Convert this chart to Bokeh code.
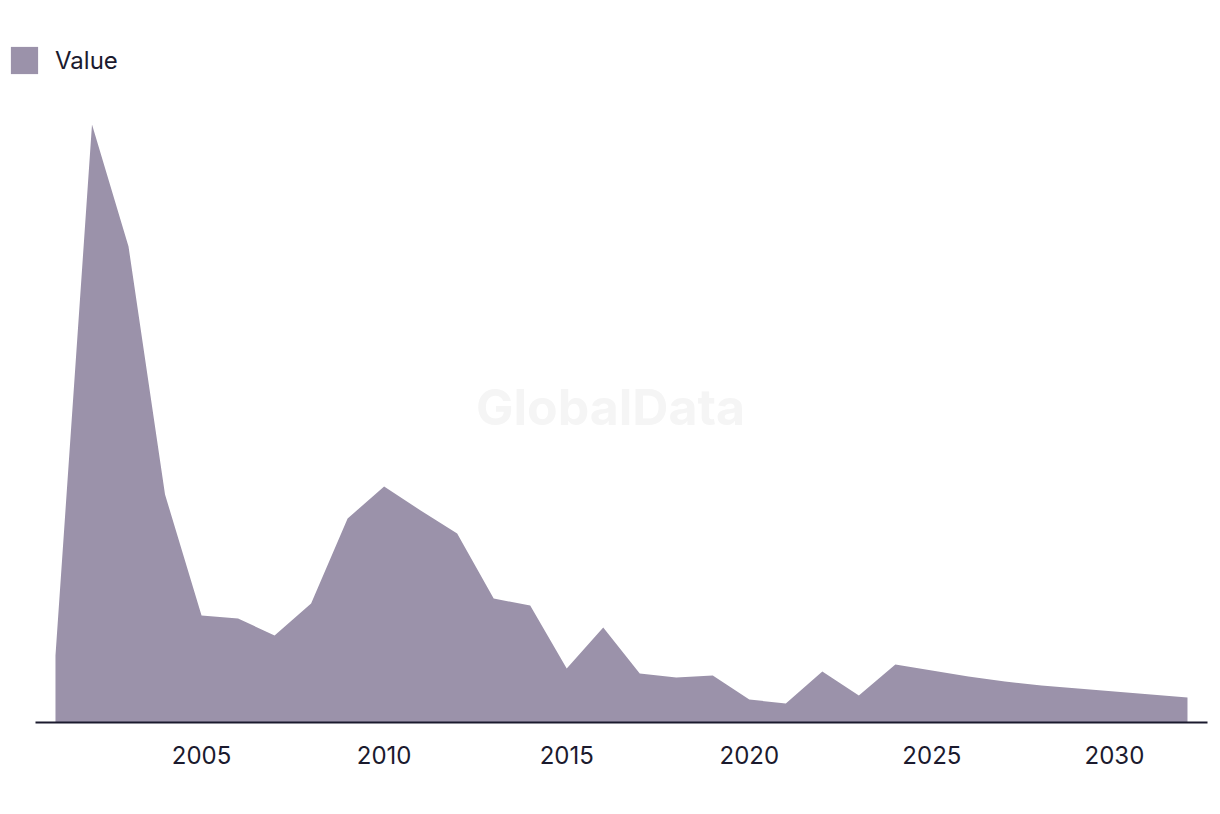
from bokeh.plotting import figure
from bokeh.models import Range1d, Legend, LegendItem, Label, FixedTicker
from bokeh.embed import file_html
from bokeh.resources import INLINE

years = list(range(2001, 2033))
values = [67, 598, 476, 228, 107, 104, 87, 119, 204, 236, 212, 189, 124, 117,
          54, 95, 49, 45, 47, 23, 19, 51, 27, 58, 52, 46, 41, 37, 34, 31, 28, 25]
tick_years = [2005, 2010, 2015, 2020, 2025, 2030]
series_name = "Value"

AREA = "#9b92aa"
INK = "#1b1a2e"
FONT = "Inter"

x_start, x_end = 1999.686, 2032.548
axis_start = 2000.452

p = figure(width=1220, height=814, output_backend="svg", toolbar_location=None,
           x_range=Range1d(x_start, x_end), y_range=Range1d(0, 679),
           min_border_left=7, min_border_right=13, min_border_top=43,
           min_border_bottom=92)
p.outline_line_color = None
p.xgrid.visible = False
p.ygrid.visible = False
p.yaxis.visible = False

r = p.varea(x=years, y1=[0] * len(years), y2=values, fill_color=AREA)

wm = Label(x=603, y=316, x_units="screen", y_units="screen", text="GlobalData",
           text_font=FONT, text_font_style="bold", text_font_size="50px",
           text_color="#f5f5f5", text_align="center", text_baseline="middle")
p.add_layout(wm)

ax = p.xaxis[0]
ax.ticker = FixedTicker(ticks=tick_years)
ax.bounds = (axis_start, x_end)
ax.axis_line_color = INK
ax.axis_line_width = 2
ax.major_tick_line_color = None
ax.minor_tick_line_color = None
ax.major_label_text_font = FONT
ax.major_label_text_font_size = "24px"
ax.major_label_text_color = INK
ax.major_label_standoff = 17

legend = Legend(items=[LegendItem(label=series_name, renderers=[r])],
                location="top_left", orientation="horizontal",
                glyph_width=34, glyph_height=34, label_standoff=14,
                label_text_font=FONT, label_text_font_size="24px",
                label_text_color=INK, margin=0, padding=0,
                border_line_alpha=0, background_fill_alpha=0)
p.add_layout(legend)

open("out.html", "w").write(file_html(p, INLINE))
